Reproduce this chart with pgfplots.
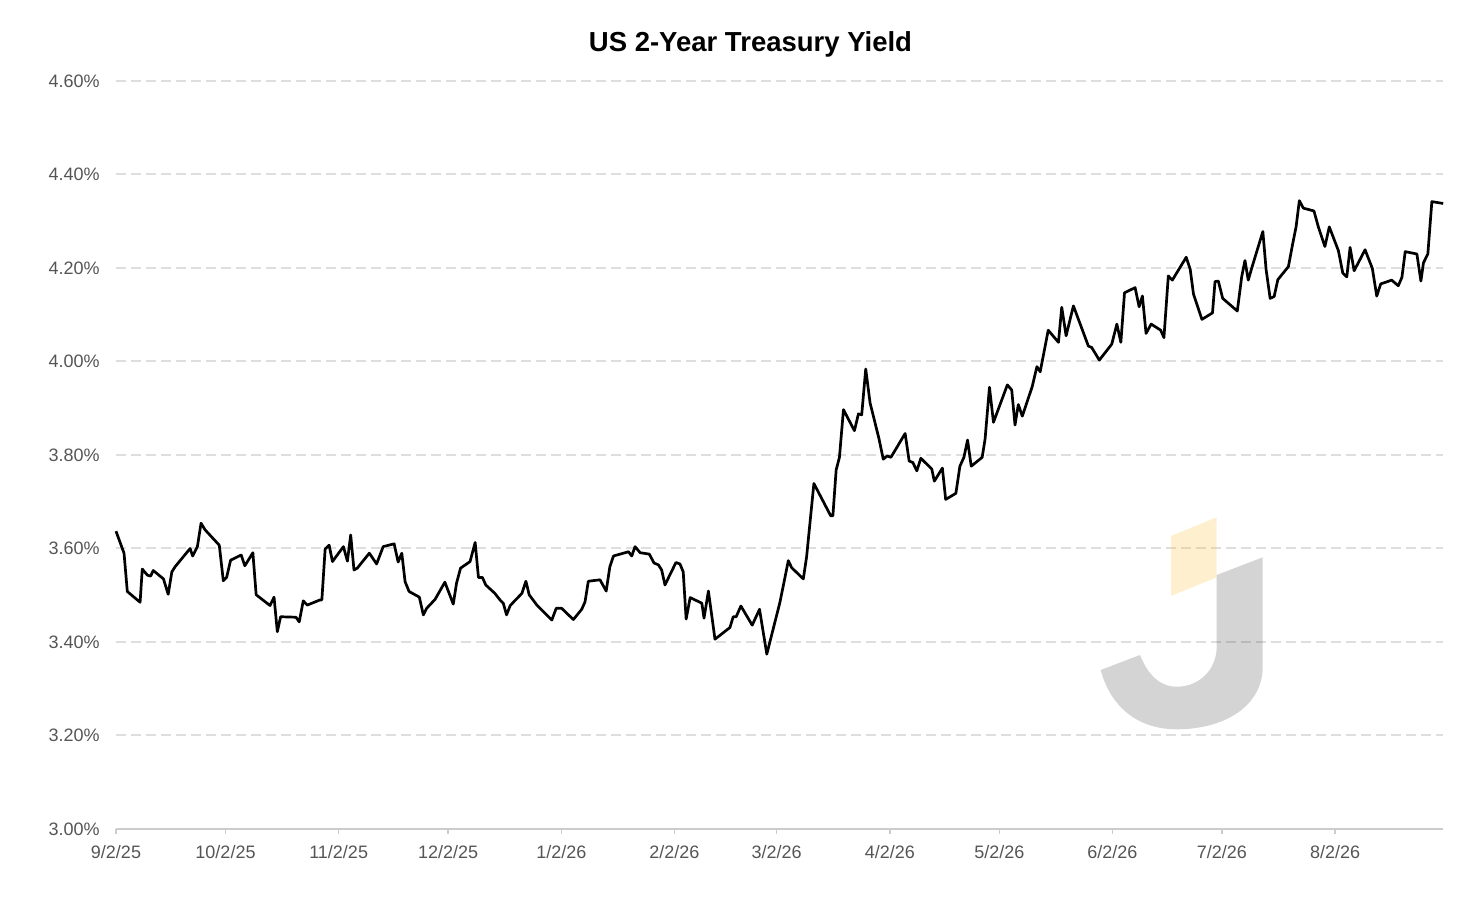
\documentclass[border=0pt]{standalone}
\usepackage{pgfplots}
\pgfplotsset{compat=1.18}
\usepackage{pgfplotstable}
\usepackage{fontspec}
\setmainfont{Liberation Sans}
\definecolor{ticktext}{HTML}{555555}
\definecolor{gridc}{HTML}{DEDEDE}
\definecolor{axisc}{HTML}{CCCCCC}
\definecolor{logogold}{RGB}{251,195,63}

% days since 9/2/25, yield in %
\pgfplotstableread{
d y
0.0 3.637
2.2 3.590
3.1 3.508
6.6 3.485
7.2 3.556
8.6 3.543
9.5 3.541
10.2 3.553
13.0 3.535
14.3 3.502
15.3 3.550
16.2 3.561
20.3 3.600
21.0 3.584
22.3 3.604
23.3 3.654
24.4 3.640
28.3 3.607
29.4 3.531
30.3 3.538
31.4 3.575
34.3 3.586
35.3 3.563
37.5 3.591
38.4 3.501
42.2 3.478
43.3 3.496
44.2 3.422
45.1 3.454
49.3 3.453
50.2 3.443
51.3 3.488
52.4 3.479
55.9 3.490
56.4 3.490
57.3 3.599
58.4 3.607
59.3 3.572
62.3 3.604
63.4 3.573
64.3 3.629
65.2 3.554
66.1 3.558
69.4 3.590
71.4 3.567
73.2 3.604
76.2 3.610
77.3 3.571
78.3 3.590
79.2 3.529
80.3 3.508
83.1 3.496
84.2 3.458
85.1 3.472
87.4 3.491
90.1 3.528
92.4 3.481
93.3 3.526
94.4 3.558
97.0 3.572
98.4 3.613
99.3 3.538
100.4 3.538
101.3 3.522
103.8 3.504
105.2 3.490
106.1 3.483
107.0 3.458
108.0 3.478
111.2 3.504
112.3 3.530
113.2 3.501
115.3 3.479
119.4 3.447
120.6 3.472
122.1 3.472
125.3 3.448
127.6 3.470
128.5 3.486
129.4 3.530
132.6 3.533
134.3 3.509
135.3 3.561
136.3 3.584
140.4 3.593
141.3 3.584
142.2 3.604
143.6 3.591
146.1 3.588
147.4 3.569
148.6 3.565
149.5 3.554
150.4 3.522
153.4 3.570
154.5 3.567
155.4 3.550
156.2 3.449
157.3 3.495
160.5 3.483
161.1 3.451
162.3 3.509
164.1 3.406
168.2 3.431
169.1 3.454
169.9 3.454
171.2 3.477
174.3 3.436
176.3 3.470
178.3 3.374
181.9 3.485
184.2 3.574
185.1 3.559
188.3 3.535
189.2 3.582
191.2 3.739
195.8 3.670
196.4 3.670
197.3 3.768
198.2 3.795
199.3 3.897
202.3 3.852
203.4 3.888
204.3 3.886
205.4 3.984
206.6 3.911
209.0 3.836
210.2 3.791
211.3 3.798
212.3 3.795
216.2 3.846
217.3 3.787
218.3 3.784
219.4 3.766
220.5 3.793
223.5 3.770
224.2 3.744
226.4 3.772
227.3 3.705
230.1 3.718
231.2 3.776
232.3 3.795
233.3 3.832
234.3 3.776
237.3 3.795
238.1 3.834
239.3 3.945
240.4 3.870
244.2 3.950
245.4 3.939
246.3 3.864
247.2 3.908
248.3 3.883
251.0 3.946
252.3 3.989
253.2 3.978
255.4 4.067
258.2 4.041
259.1 4.116
260.3 4.055
262.3 4.119
266.4 4.033
267.3 4.030
269.4 4.003
272.8 4.037
274.2 4.080
275.3 4.041
276.3 4.147
279.2 4.158
280.3 4.117
281.2 4.140
282.2 4.060
283.6 4.080
286.2 4.067
287.1 4.051
288.3 4.183
289.4 4.174
293.2 4.223
294.3 4.197
295.2 4.144
297.5 4.090
300.4 4.104
301.1 4.171
302.0 4.172
303.2 4.135
307.2 4.108
308.4 4.181
309.3 4.216
310.2 4.174
311.2 4.201
314.2 4.278
315.1 4.196
316.2 4.135
317.3 4.139
318.3 4.175
321.2 4.203
322.4 4.253
323.3 4.288
324.2 4.344
325.3 4.328
328.2 4.322
329.4 4.288
331.2 4.246
332.4 4.288
334.9 4.237
336.1 4.189
337.2 4.181
338.1 4.244
339.2 4.194
342.2 4.239
344.2 4.199
345.4 4.140
346.5 4.166
349.5 4.174
351.3 4.162
352.3 4.180
353.2 4.235
356.4 4.230
357.5 4.172
358.2 4.211
359.4 4.230
360.5 4.342
363.6 4.338
}\yielddata

\begin{document}
\begin{tikzpicture}
\path[use as bounding box] (-58pt,-40.5pt) rectangle (684pt,414.5pt);
\begin{axis}[
  at={(0pt,0pt)}, anchor=south west,
  scale only axis, width=663.65pt, height=374pt,
  xmin=0, xmax=363.64, ymin=3.0, ymax=4.6,
  axis x line*=bottom, axis y line*=left,
  x axis line style={draw=axisc, line width=0.75pt},
  y axis line style={draw=none},
  xtick={0,30,61,91,122,153,181,212,242,273,303,334},
  xticklabels={9/2/25,10/2/25,11/2/25,12/2/25,1/2/26,2/2/26,3/2/26,4/2/26,5/2/26,6/2/26,7/2/26,8/2/26},
  ytick={3.0,3.2,3.4,3.6,3.8,4.0,4.2,4.4,4.6},
  yticklabels={3.00\%,3.20\%,3.40\%,3.60\%,3.80\%,4.00\%,4.20\%,4.40\%,4.60\%},
  tick align=outside,
  xtick style={draw=axisc, line width=0.75pt},
  major tick length=2.5pt,
  ytick style={draw=none},
  ymajorgrids,
  grid style={draw=gridc, line width=1pt, dash pattern=on 5pt off 2.5pt},
  xticklabel style={font=\fontsize{9}{11}\selectfont, text=ticktext, inner sep=0pt, anchor=north, yshift=-5.5pt},
  yticklabel style={font=\fontsize{9}{11}\selectfont, text=ticktext, inner sep=0pt, anchor=east, xshift=-5.5pt},
  clip=false,
]
\addplot[black, line width=1.35pt, line join=round] table[x=d, y=y] {\yielddata};
\end{axis}
% watermark logo
\fill[logogold, opacity=0.25] (527.5pt,146.5pt) -- (550.35pt,155.85pt) -- (550.35pt,125.85pt) -- (527.5pt,116.5pt) -- cycle;
\fill[black!68, opacity=0.25] (550.35pt,127pt) -- (573.35pt,135.85pt) -- (573.35pt,81.15pt)
  .. controls (573.35pt,62pt) and (555pt,49.85pt) .. (530.35pt,49.85pt)
  .. controls (510pt,49.85pt) and (497pt,62pt) .. (492.35pt,79.5pt)
  -- (512pt,87pt)
  .. controls (516pt,77pt) and (522pt,71.15pt) .. (530.35pt,71.15pt)
  .. controls (542pt,71.15pt) and (550.35pt,80pt) .. (550.35pt,91.15pt) -- cycle;
% title
\node[anchor=base, inner sep=0pt, font=\bfseries\fontsize{13.75}{16}\selectfont] at (317.25pt,388.5pt) {US 2-Year Treasury Yield};
\end{tikzpicture}
\end{document}
